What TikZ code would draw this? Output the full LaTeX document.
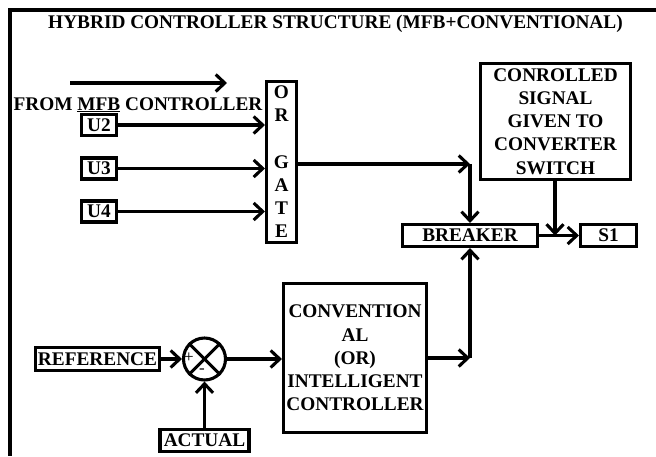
\documentclass[tikz,border=0pt]{standalone}
\usepackage{fontspec}
\setmainfont{Liberation Serif}
\usetikzlibrary{arrows.meta}
\begin{document}
\begin{tikzpicture}[x=1pt,y=-1pt,
  every node/.style={font=\fontsize{19.3}{23.2}\selectfont\bfseries},
  blk/.style={draw,line width=3.1pt,inner sep=0pt,align=center},
  conn/.style={line width=3.1pt,-{Straight Barb[length=9pt,width=17pt]}},
  wire/.style={line width=3.1pt},
  sign/.style={font=\fontsize{17}{17}\selectfont,inner sep=0pt}
]
\useasboundingbox (0,0) rectangle (656,456);
% frame
\draw[wire] (656,10) -- (10,10) -- (10,456);
% title
\node[anchor=base] (title) at (335.5,28.5) {HYBRID CONTROLLER STRUCTURE (MFB+CONVENTIONAL)};
% from MFB
\node[anchor=base] (from) at (138,110) {FROM \underline{MFB} CONTROLLER};
\coordinate (a1) at (70,83);
\coordinate (a2) at (227,83);
\draw[conn] (a1) -- (a2);
% OR gate
\node[blk, minimum width=30pt, minimum height=161pt] (or) at (281.5,162) {O\\R\\\mbox{}\\G\\A\\T\\E};
% inputs
\node[blk, minimum width=35pt, minimum height=21pt] (u2) at (99,125) {U2};
\node[blk, minimum width=35pt, minimum height=21pt] (u3) at (99,168.5) {U3};
\node[blk, minimum width=35pt, minimum height=21pt] (u4) at (99,211.5) {U4};
\draw[conn] (u2.east) -- (u2.east -| or.west);
\draw[conn] (u3.east) -- (u3.east -| or.west);
\draw[conn] (u4.east) -- (u4.east -| or.west);
% controlled signal
\node[blk, minimum width=150pt, minimum height=116pt] (ctrl) at (555.5,121.5) {CONROLLED\\SIGNAL\\GIVEN TO\\CONVERTER\\SWITCH};
% breaker and S1
\node[blk, minimum width=135pt, minimum height=22pt] (brk) at (470,235.5) {BREAKER};
\node[blk, minimum width=56pt, minimum height=22pt] (s1) at (608.5,235.5) {S1};
% reference, sum, actual
\node[blk, minimum width=124pt, minimum height=23pt] (ref) at (97.5,359) {REFERENCE};
\node[draw, circle, line width=3.1pt, minimum size=42pt, inner sep=0pt] (sum) at (204.5,359) {};
\draw[wire] (sum.north west) -- (sum.south east);
\draw[wire] (sum.north east) -- (sum.south west);
\node[sign] (plus) at (189,358) {+};
\node[sign] (minus) at (202,371) {-};
\node[blk, minimum width=89pt, minimum height=22pt] (act) at (204.5,440.5) {ACTUAL};
% conventional controller
\node[blk, minimum width=143pt, minimum height=149pt] (conv) at (355,358) {CONVENTION\\AL\\(OR)\\INTELLIGENT\\CONTROLLER};
% connections
\coordinate (j1) at (470,164);
\draw[conn] (or.east |- j1) -- (j1);
\draw[conn] (j1) -- (brk.north);
\coordinate (j2) at (555,235.5);
\draw[conn] (ctrl.south -| j2) -- (j2);
\draw[conn] (brk.east) -- (s1.west);
\draw[conn] (ref.east) -- (sum.west);
\draw[conn] (act.north) -- (sum.south);
\draw[conn] (sum.east) -- (sum.east -| conv.west);
\coordinate (j3) at (470,358);
\draw[conn] (conv.east |- j3) -- (j3);
\draw[conn] (j3) -- (brk.south);
\end{tikzpicture}
\end{document}
